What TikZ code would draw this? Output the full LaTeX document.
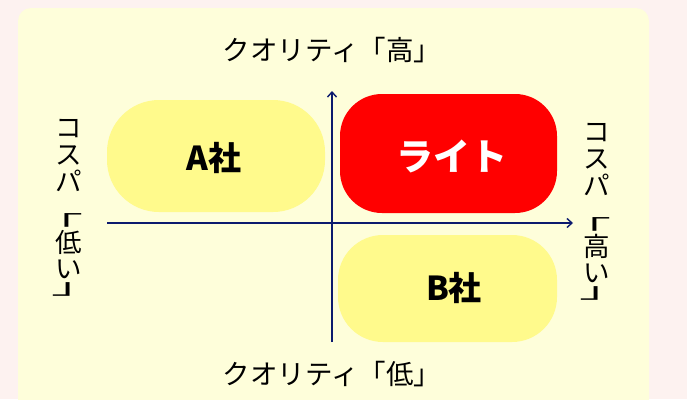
\documentclass[tikz,border=0pt]{standalone}
\usepackage{fontspec}
\usepackage{graphicx}
\setmainfont{Noto Sans CJK JP}
\usetikzlibrary{arrows.meta}
\definecolor{pagebg}{RGB}{253,242,240}
\definecolor{panelbg}{RGB}{254,254,218}
\definecolor{pillyellow}{RGB}{255,250,140}
\definecolor{pillred}{RGB}{255,0,0}
\definecolor{axisblue}{RGB}{12,26,110}
\newcommand{\vopen}{\makebox[1em][l]{\hspace*{-0.97em}\scalebox{2.0}[0.8]{「}}}
\newcommand{\vclose}{\makebox[1em][l]{\hspace*{-0.16em}\scalebox{2.0}[0.8]{」}}}
\tikzset{
  axisline/.style={draw=axisblue, line width=1.6pt, -{Straight Barb[length=5pt,width=9pt,line width=1.4pt]}},
  axislabel/.style={font=\fontsize{27.5}{30}\selectfont, text=black, inner sep=0pt},
  vchar/.style={font=\fontsize{26.5}{27}\selectfont, text=black, inner sep=0pt, anchor=base},
  pill/.style={inner sep=0pt, font=\fontsize{33}{36}\selectfont\bfseries},
  bigpill/.style={inner sep=0pt, font=\fontsize{37}{40}\selectfont\bfseries},
}
\begin{document}
\begin{tikzpicture}[x=1pt,y=-1pt]
\useasboundingbox (0,0) rectangle (687,399);
\fill[pagebg] (0,0) rectangle (687,399);
\fill[panelbg, rounded corners=13pt] (18,8) rectangle (649,420);
% pills
\fill[pillyellow, rounded corners=52pt] (107,100) rectangle (325,212);
\fill[pillred, rounded corners=42pt] (340,94) rectangle (557,213);
\fill[pillyellow, rounded corners=45pt] (338,235) rectangle (557,342);
\node[pill, text=black] (a) at (214,158) {A社};
\node[bigpill, text=white] (lite) at (452,156) {ライト};
\node[pill, text=black] (b) at (454,288) {B社};
% axes
\coordinate (vbot) at (332,342);
\coordinate (vtop) at (332,91);
\coordinate (hl) at (107,223);
\coordinate (hr) at (573,223);
\draw[axisline] (vbot) -- (vtop);
\draw[axisline] (hl) -- (hr);
% labels
\node[axislabel] (qh) at (332,50) {クオリティ「高」};
\node[axislabel] (ql) at (332,374) {クオリティ「低」};
% vertical labels, one character per node
\foreach \ch/\yy [count=\i] in {コ/137.5, ス/164.5, パ/191.5, \vopen/231, 低/252, い/278.5, \vclose/294}
  \node[vchar] (cl\i) at (69,\yy) {\ch};
\foreach \ch/\yy [count=\i] in {コ/141.5, ス/168.5, パ/195.5, \vopen/235, 高/256, い/282.5, \vclose/298}
  \node[vchar] (ch\i) at (597,\yy) {\ch};
\end{tikzpicture}
\end{document}
